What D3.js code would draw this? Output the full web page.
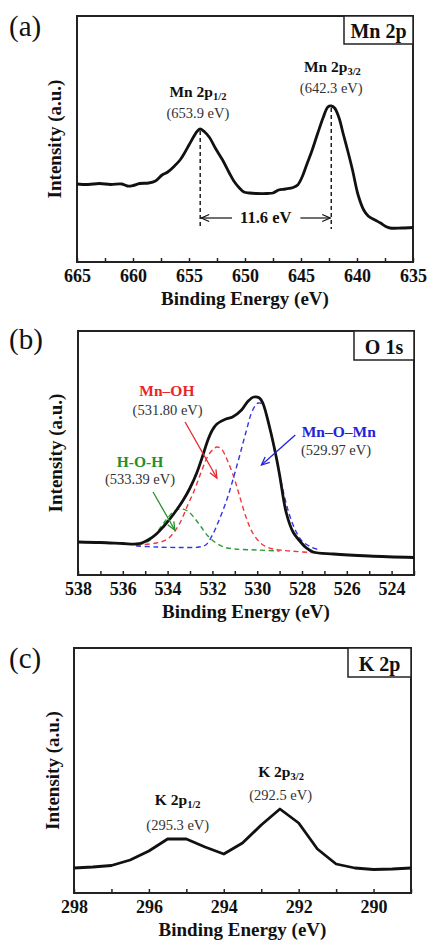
<!DOCTYPE html>
<html>
<head>
<meta charset="utf-8">
<script src="https://cdn.jsdelivr.net/npm/d3@7"></script>
<style>
body { margin: 0; background: #fff; }
svg { display: block; }
text { font-family: "Liberation Serif", "Times New Roman", serif; }
</style>
</head>
<body>
<div id="main"></div>
<script>
// ---- data (binding energy eV, intensity a.u.) ----
var mn2p = [
  [665.0,78],[664.0,77.5],[663.0,78.5],[662.0,77.5],[661.0,78],[660.5,76],[660.0,76.5],
  [659.4,78.5],[658.6,79],[658.0,81],[657.4,87],[656.9,90],[656.3,96],[655.8,102],
  [655.4,109],[655.0,117],[654.6,125],[654.25,131],[654.0,133],[653.6,130],[653.2,125],
  [652.6,113],[652.0,102],[651.4,89],[651.0,81],[650.5,74],[650.1,70],[649.6,69],
  [649.0,68.5],[648.0,68.5],[647.5,69],[647.0,72],[646.4,73],[645.7,74.5],[645.3,77],
  [644.9,85],[644.5,97],[644.0,112],[643.5,129],[643.0,145],[642.6,155],[642.3,156],
  [642.0,154],[641.6,144],[641.25,129],[640.8,110],[640.4,92],[639.9,67],[639.4,52],
  [639.0,46],[638.4,42],[637.9,39],[637.5,36],[637.05,34],[636.0,34],[635.0,34.5]
];

var o1s = [
  [538.0,33],[537.0,32.5],[536.0,31.5],[535.4,31],[535.1,32.5],[534.8,36],[534.5,41],
  [534.2,48],[533.9,56],[533.6,65],[533.3,75],[533.0,87],[532.7,102],[532.45,118],
  [532.2,135],[532.0,145],[531.8,151],[531.4,156],[531.1,158],[530.7,165],[530.4,174],
  [530.15,178],[529.9,177],[529.75,172],[529.45,148],[529.15,118],[529.0,100],[528.7,62],
  [528.4,43],[528.1,34],[527.8,27],[527.5,23],[526.6,21],[525.0,19],[523.0,17.5]
];
var o1sMnOMn = [
  [535.4,29],[534.5,28],[533.5,27.5],[532.6,28],[532.3,30],[532.0,40],[531.7,55],
  [531.36,75],[531.1,94],[530.8,118],[530.5,143],[530.2,165],[529.95,172],[529.75,170],
  [529.45,147],[529.15,117],[528.9,90],[528.6,63],[528.3,45],[528.0,34],[527.6,28],[527.2,25]
];
var o1sMnOH = [
  [535.4,30],[534.5,32],[534.0,36],[533.5,50],[533.1,70],[532.8,85],[532.5,103],
  [532.2,119],[531.95,126],[531.8,128],[531.6,126],[531.3,113],[531.0,95],[530.8,80],
  [530.5,58],[530.2,42],[529.8,31],[529.3,26],[528.5,24],[527.3,22]
];
var o1sHOH = [
  [535.3,30],[534.9,33],[534.6,39],[534.3,48],[534.0,57],[533.7,64],[533.4,66],
  [533.1,64],[532.8,57],[532.5,48],[532.2,39],[531.9,33],[531.5,28],[531.0,26],
  [530.0,25],[529.0,24]
];

var k2p = [
  [298.0,25],[297.5,26],[297.0,27.5],[296.5,33],[296.0,42],[295.5,54],[295.0,54],
  [294.5,46],[294.0,39],[293.5,50],[293.0,68],[292.5,84],[292.0,70],[291.5,44],
  [291.0,29],[290.5,25],[290.0,23.5],[289.5,24],[289.0,25]
];

// tick labels
var ticksA = [665, 660, 655, 650, 645, 640, 635];
var minorA = [662.5, 657.5, 652.5, 647.5, 642.5, 637.5];
var ticksB = [538, 536, 534, 532, 530, 528, 526, 524];
var minorB = [537, 535, 533, 531, 529, 527, 525, 523];
var ticksC = [298, 296, 294, 292, 290];
var minorC = [297, 295, 293, 291, 289];

var svg = d3.select("#main")
  .append("svg")
  .attr("width", 428)
  .attr("height", 942);

svg.append("rect").attr("width", 428).attr("height", 942).attr("fill", "#fff");

var defs = svg.append("defs");
function arrowMarker(id, color, w) {
  defs.append("marker")
    .attr("id", id)
    .attr("viewBox", "-10 -5 12 10")
    .attr("refX", 0).attr("refY", 0)
    .attr("markerWidth", 12).attr("markerHeight", 10)
    .attr("markerUnits", "userSpaceOnUse")
    .attr("orient", "auto")
    .append("path")
    .attr("d", "M-8,-3.5L0,0L-8,3.5")
    .attr("fill", "none")
    .attr("stroke", color)
    .attr("stroke-width", w);
}
arrowMarker("arrK", "#111", 1.2);
arrowMarker("arrR", "#e8262b", 1.3);
arrowMarker("arrG", "#23902a", 1.3);
arrowMarker("arrB", "#2323d8", 1.3);

function makePanel(o) {
  var g = svg.append("g");
  var x = d3.scaleLinear().domain(o.xDomain).range([o.left, o.right]);
  var y = d3.scaleLinear().domain([0, o.bottom - o.top]).range([o.bottom, o.top]);

  // ticks, pointing inward
  var allTicks = o.ticks.concat(o.minor);
  var axis = d3.axisBottom(x)
    .tickValues(allTicks)
    .tickSizeInner(-4)
    .tickSizeOuter(0)
    .tickPadding(7)
    .tickFormat(function(d) { return o.ticks.indexOf(d) >= 0 ? d : ""; });
  var ax = g.append("g")
    .attr("transform", "translate(0," + o.bottom + ")")
    .call(axis);
  ax.select(".domain").remove();
  ax.selectAll(".tick line").attr("stroke", "#222").attr("stroke-width", 1.5);
  ax.selectAll(".tick text")
    .attr("fill", "#111")
    .attr("font-size", 18)
    .attr("font-weight", "bold");

  // frame
  g.append("rect")
    .attr("x", o.left).attr("y", o.top)
    .attr("width", o.right - o.left).attr("height", o.bottom - o.top)
    .attr("fill", "none").attr("stroke", "#222").attr("stroke-width", 2);

  // element box
  g.append("rect")
    .attr("x", o.boxLeft).attr("y", o.top)
    .attr("width", o.right - o.boxLeft).attr("height", o.boxH)
    .attr("fill", "#fff").attr("stroke", "#222").attr("stroke-width", 1.5);
  g.append("text")
    .attr("x", (o.boxLeft + o.right) / 2).attr("y", o.top + o.boxH - 6)
    .attr("text-anchor", "middle")
    .attr("font-size", 20).attr("font-weight", "bold")
    .attr("fill", "#111")
    .text(o.element);

  // axis titles
  g.append("text")
    .attr("x", (o.left + o.right) / 2).attr("y", o.bottom + 43)
    .attr("text-anchor", "middle")
    .attr("font-size", 19).attr("font-weight", "bold").attr("fill", "#111")
    .text("Binding Energy (eV)");
  g.append("text")
    .attr("transform", "translate(" + o.yTitleX + "," + (o.top + o.bottom) / 2 + ") rotate(-90)")
    .attr("text-anchor", "middle")
    .attr("font-size", 19).attr("font-weight", "bold").attr("fill", "#111")
    .text("Intensity (a.u.)");

  // panel letter
  g.append("text")
    .attr("x", 9).attr("y", o.letterY)
    .attr("font-size", 29).attr("fill", "#111")
    .text(o.letter);

  return { g: g, x: x, y: y };
}

function peakLabel(g, cx, by, main, sub, color, size) {
  var t = g.append("text")
    .attr("x", cx).attr("y", by)
    .attr("text-anchor", "middle")
    .attr("font-weight", "bold")
    .attr("font-size", size || 15.5)
    .attr("fill", color || "#111")
    .text(main);
  if (sub) t.append("tspan").attr("font-size", 10.5).attr("dy", 3).text(sub);
}
function valueLabel(g, cx, by, txt) {
  g.append("text")
    .attr("x", cx).attr("y", by)
    .attr("text-anchor", "middle")
    .attr("font-size", 14.5)
    .attr("fill", "#333")
    .text(txt);
}

// ---------------- (a) Mn 2p ----------------
var pa = makePanel({
  left: 77, right: 413, top: 16, bottom: 262,
  xDomain: [665, 635], ticks: ticksA, minor: minorA,
  boxLeft: 344, boxH: 28, element: "Mn 2p",
  letter: "(a)", letterY: 36, yTitleX: 61
});
var lineA = d3.line()
  .x(function(d) { return pa.x(d[0]); })
  .y(function(d) { return pa.y(d[1]); })
  .curve(d3.curveCatmullRom.alpha(0.5));
pa.g.append("path").datum(mn2p)
  .attr("d", lineA)
  .attr("fill", "none").attr("stroke", "#111").attr("stroke-width", 2.8)
  .attr("stroke-linejoin", "round");

[[654.0, 133], [642.3, 156]].forEach(function(p) {
  pa.g.append("line")
    .attr("x1", pa.x(p[0])).attr("x2", pa.x(p[0]))
    .attr("y1", pa.y(p[1]) + 2).attr("y2", pa.y(33))
    .attr("stroke", "#111").attr("stroke-width", 1.4)
    .attr("stroke-dasharray", "4,3");
});
var sepTxt = pa.g.append("text")
  .attr("x", pa.x((654.0 + 642.3) / 2)).attr("y", pa.y(39))
  .attr("text-anchor", "middle")
  .attr("font-size", 16.5).attr("font-weight", "bold").attr("fill", "#111")
  .text("11.6 eV");
var tw = sepTxt.node().getComputedTextLength();
var midA = pa.x((654.0 + 642.3) / 2);
pa.g.append("line")
  .attr("x1", midA - tw / 2 - 8).attr("x2", pa.x(654.0) + 1)
  .attr("y1", pa.y(44)).attr("y2", pa.y(44))
  .attr("stroke", "#111").attr("stroke-width", 1.2)
  .attr("marker-end", "url(#arrK)");
pa.g.append("line")
  .attr("x1", midA + tw / 2 + 9).attr("x2", pa.x(642.3) - 1)
  .attr("y1", pa.y(44)).attr("y2", pa.y(44))
  .attr("stroke", "#111").attr("stroke-width", 1.2)
  .attr("marker-end", "url(#arrK)");

peakLabel(pa.g, pa.x(654.2), pa.y(165), "Mn 2p", "1/2");
valueLabel(pa.g, pa.x(654.2), pa.y(144), "(653.9 eV)");
peakLabel(pa.g, pa.x(642.2), pa.y(190), "Mn 2p", "3/2");
valueLabel(pa.g, pa.x(642.3), pa.y(169), "(642.3 eV)");

// ---------------- (b) O 1s ----------------
var pb = makePanel({
  left: 78, right: 414, top: 331, bottom: 575,
  xDomain: [538, 523], ticks: ticksB, minor: minorB,
  boxLeft: 354, boxH: 29, element: "O 1s",
  letter: "(b)", letterY: 349, yTitleX: 62
});
var lineB = d3.line()
  .x(function(d) { return pb.x(d[0]); })
  .y(function(d) { return pb.y(d[1]); })
  .curve(d3.curveCatmullRom.alpha(0.5));

var comps = [
  { data: o1sHOH, color: "#2e9a34" },
  { data: o1sMnOH, color: "#f0373c" },
  { data: o1sMnOMn, color: "#3434e6" }
];
comps.forEach(function(c) {
  pb.g.append("path").datum(c.data)
    .attr("d", lineB)
    .attr("fill", "none").attr("stroke", c.color).attr("stroke-width", 1.4)
    .attr("stroke-dasharray", "5,3.5");
});
pb.g.append("path").datum(o1s)
  .attr("d", lineB)
  .attr("fill", "none").attr("stroke", "#111").attr("stroke-width", 2.8)
  .attr("stroke-linejoin", "round");

peakLabel(pb.g, pb.x(534.03), pb.y(179), "Mn\u2013OH", null, "#e8262b");
valueLabel(pb.g, pb.x(534.0), pb.y(160), "(531.80 eV)");
peakLabel(pb.g, pb.x(535.23), pb.y(108), "H-O-H", null, "#23902a");
valueLabel(pb.g, pb.x(535.23), pb.y(91), "(533.39 eV)");
peakLabel(pb.g, pb.x(526.36), pb.y(138), "Mn\u2013O\u2013Mn", null, "#2323d8");
valueLabel(pb.g, pb.x(526.48), pb.y(120), "(529.97 eV)");

[
  { from: [533.22, 153], to: [531.8, 97], color: "#e8262b", m: "arrR" },
  { from: [534.65, 83], to: [533.68, 45], color: "#23902a", m: "arrG" },
  { from: [528.3, 140], to: [529.81, 110], color: "#2323d8", m: "arrB" }
].forEach(function(a) {
  pb.g.append("line")
    .attr("x1", pb.x(a.from[0])).attr("y1", pb.y(a.from[1]))
    .attr("x2", pb.x(a.to[0])).attr("y2", pb.y(a.to[1]))
    .attr("stroke", a.color).attr("stroke-width", 1.3)
    .attr("marker-end", "url(#" + a.m + ")");
});

// ---------------- (c) K 2p ----------------
var pc = makePanel({
  left: 74, right: 411, top: 648, bottom: 893,
  xDomain: [298, 289], ticks: ticksC, minor: minorC,
  boxLeft: 348, boxH: 29, element: "K 2p",
  letter: "(c)", letterY: 668, yTitleX: 59
});
var lineC = d3.line()
  .x(function(d) { return pc.x(d[0]); })
  .y(function(d) { return pc.y(d[1]); });
pc.g.append("path").datum(k2p)
  .attr("d", lineC)
  .attr("fill", "none").attr("stroke", "#111").attr("stroke-width", 2.8)
  .attr("stroke-linejoin", "round");

peakLabel(pc.g, pc.x(295.23), pc.y(88), "K 2p", "1/2");
valueLabel(pc.g, pc.x(295.23), pc.y(63), "(295.3 eV)");
peakLabel(pc.g, pc.x(292.47), pc.y(116), "K 2p", "3/2");
valueLabel(pc.g, pc.x(292.48), pc.y(93), "(292.5 eV)");
</script>
</body>
</html>
